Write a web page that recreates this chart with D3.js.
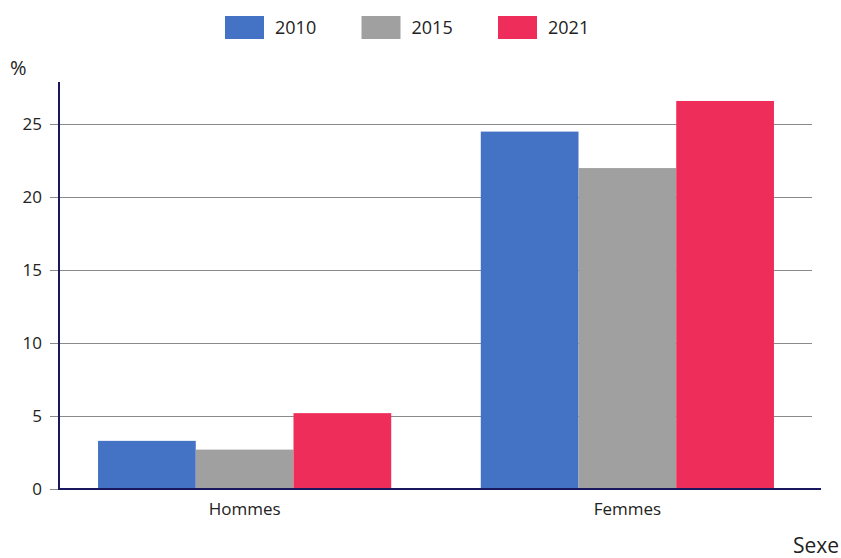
<!DOCTYPE html>
<html>
<head>
<meta charset="utf-8">
<script src="https://cdn.jsdelivr.net/npm/d3@7"></script>
<style>
  html, body { margin: 0; padding: 0; background: #fff; }
  svg { display: block; font-family: "Open Sans", "Noto Sans", sans-serif; }
</style>
</head>
<body>
<svg id="chart" width="841" height="558"></svg>
<script>
// Share (%) by sex and year
const categories = ["Hommes", "Femmes"];
const years = ["2010", "2015", "2021"];
const values2010 = [3.3, 24.5];
const values2015 = [2.7, 22.0];
const values2021 = [5.2, 26.6];
const yTicks = [0, 5, 10, 15, 20, 25];
const colors = ["#4472c4", "#a0a0a0", "#ef2d5b"];

const seriesValues = [values2010, values2015, values2021];
const rows = categories.map((c, i) => ({
  cat: c,
  vals: years.map((y, k) => ({ year: y, value: seriesValues[k][i] }))
}));

const svg = d3.select("#chart");
const left = 59, right = 813, bottom = 489;

const y = d3.scaleLinear().domain([0, 27.9]).range([bottom, 82]);
const x0 = d3.scaleBand().domain(categories).range([left, right])
  .paddingInner(0.234).paddingOuter(0.102);
const x1 = d3.scaleBand().domain(years).range([0, x0.bandwidth()]);
const color = d3.scaleOrdinal().domain(years).range(colors);

// Tick labels on the value axis
const gy = svg.append("g").attr("transform", `translate(${left - 9},0)`);
gy.call(d3.axisLeft(y).tickValues(yTicks).tickSize(0).tickPadding(8));
gy.select(".domain").remove();
gy.selectAll(".tick line").remove();
gy.selectAll(".tick text").attr("font-size", 17).attr("fill", "#222")
  .attr("font-family", "'Open Sans', sans-serif");

// Horizontal grid lines
svg.append("g").selectAll("line").data(yTicks.filter(d => d > 0)).join("line")
  .attr("x1", 50).attr("x2", 812)
  .attr("y1", d => Math.round(y(d)) + 0.5).attr("y2", d => Math.round(y(d)) + 0.5)
  .attr("stroke", "#8a8a8a").attr("stroke-width", 1);

// Bars
svg.append("g").selectAll("g").data(rows).join("g")
  .attr("transform", d => `translate(${x0(d.cat)},0)`)
  .selectAll("rect").data(d => d.vals).join("rect")
  .attr("x", d => x1(d.year))
  .attr("width", x1.bandwidth())
  .attr("y", d => y(d.value))
  .attr("height", d => y(0) - y(d.value))
  .attr("fill", d => color(d.year));

// Axis lines
svg.append("line").attr("x1", left).attr("x2", left).attr("y1", 82).attr("y2", bottom + 1)
  .attr("stroke", "#1b1660").attr("stroke-width", 2);
svg.append("line").attr("x1", 50).attr("x2", left).attr("y1", bottom + 0.5).attr("y2", bottom + 0.5)
  .attr("stroke", "#8a8a8a").attr("stroke-width", 1);
svg.append("line").attr("x1", left - 1).attr("x2", 821).attr("y1", bottom).attr("y2", bottom)
  .attr("stroke", "#1b1660").attr("stroke-width", 2);

// Category labels
const gx = svg.append("g").attr("transform", `translate(0,${bottom})`)
  .call(d3.axisBottom(x0).tickSize(0).tickPadding(14));
gx.select(".domain").remove();
gx.selectAll(".tick text").attr("font-size", 17).attr("fill", "#222")
  .attr("font-family", "'Open Sans', sans-serif");

// Axis titles
svg.append("text").attr("x", 10).attr("y", 75).attr("font-size", 20).attr("fill", "#222").text("%");
svg.append("text").attr("x", 839).attr("y", 553).attr("text-anchor", "end")
  .attr("font-size", 21).attr("fill", "#222").text("Sexe");

// Legend
const legend = svg.append("g").selectAll("g").data(years).join("g")
  .attr("transform", (d, i) => `translate(${225 + i * 136.5},16)`);
legend.append("rect").attr("width", 39).attr("height", 23).attr("fill", d => color(d));
legend.append("text").attr("x", 50).attr("y", 18).attr("font-size", 18).attr("fill", "#222")
  .attr("font-family", "'Open Sans', sans-serif").text(d => d);
</script>
</body>
</html>
